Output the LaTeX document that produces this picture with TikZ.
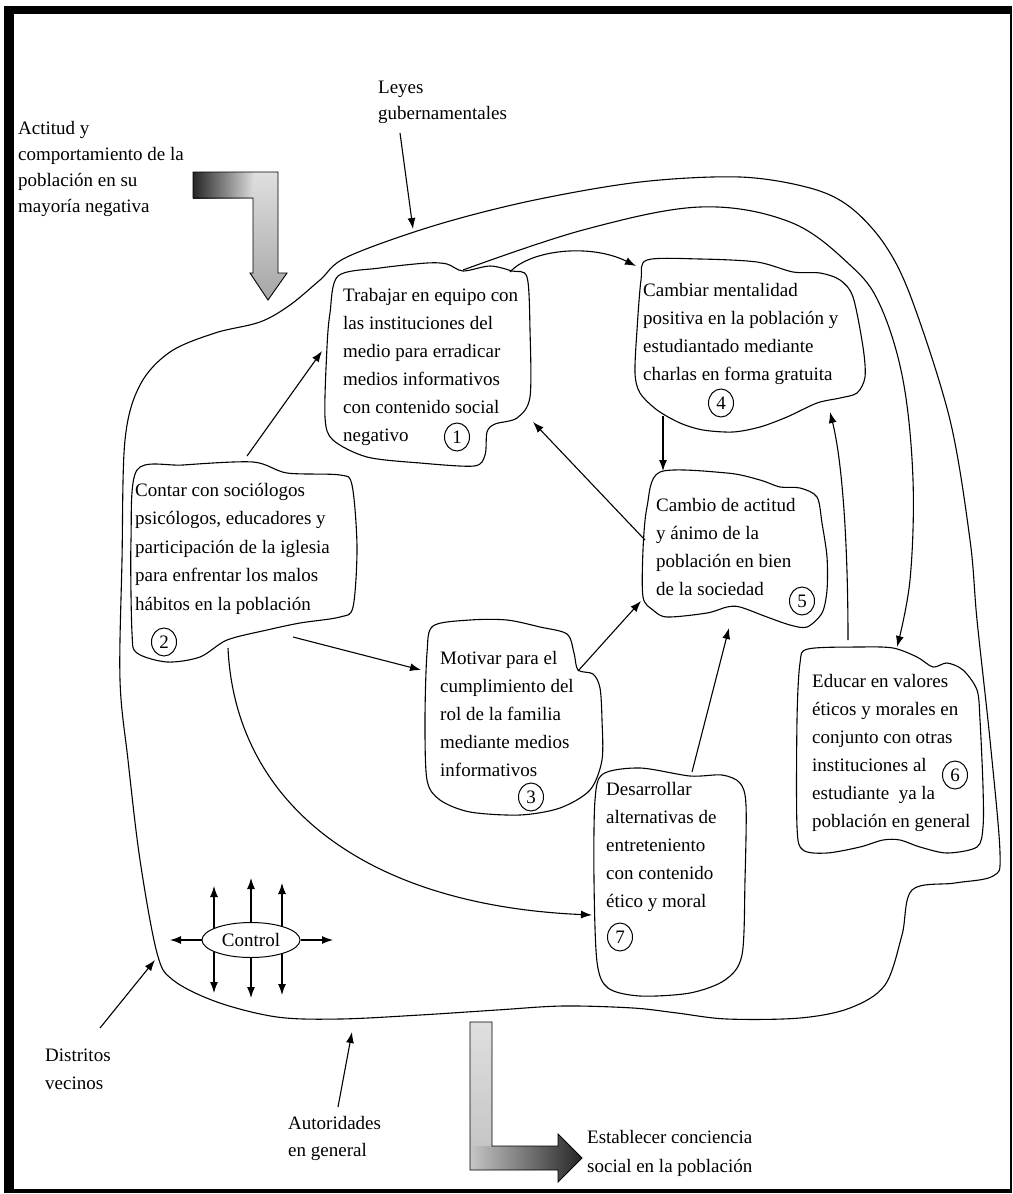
\documentclass[tikz,border=0pt]{standalone}
\usepackage{fontspec}
\setmainfont{Liberation Serif}
\usetikzlibrary{arrows.meta,shapes.geometric,calc}
\begin{document}
\begin{tikzpicture}[
  x=1pt, y=-1pt,
  lbl/.style={anchor=north west, inner sep=0pt, align=left, font=\fontsize{19}{28}\selectfont},
  lbltight/.style={lbl, font=\fontsize{19}{26}\selectfont},
  num/.style={draw, ellipse, line width=1pt, minimum width=25pt, minimum height=28pt, inner sep=0pt, font=\fontsize{19}{19}\selectfont},
  blob/.style={draw, line width=1.1pt},
  conn/.style={line width=1.1pt, -{Latex[length=11pt,width=8pt]}},
  bigarrow/.style={draw, line width=0.9pt}
]
\useasboundingbox (0,0) rectangle (1012,1194);
\fill[white] (0,0) rectangle (1012,1194);

% frame with heavy top and left edges
\fill[black] (4,6) rectangle (1012,14);
\fill[black] (4,6) rectangle (14,1193);
\fill[black] (4,1189) rectangle (1012,1193);
\fill[black] (1009.5,6) rectangle (1011.5,1193);

% outer boundary of the system
\draw[blob] plot[smooth cycle, tension=0.55] coordinates {
  (320,280) (347,257) (433,226) (530,201) (640,182) (740,177)
  (810,188) (850,207) (885,245) (912,300) (950,420) (970,540) (977,620)
  (990,740) (1000,853) (993,876) (955,883) (912,890) (902,935) (885,985)
  (850,1008) (800,1018) (727,1019) (677,1013) (633,1008) (563,1006)
  (497,1010) (420,1015) (340,1019) (277,1017) (217,1002) (173,980)
  (157,953) (140,860) (128,760) (120,680) (122,560) (125,440) (140,385)
  (170,352) (215,333) (260,322) (290,305)};

% ---- boxes ----
% 1
\draw[blob] plot[smooth cycle, tension=0.5] coordinates {
  (338,276) (380,268) (427,263) (447,264) (463,271) (490,266) (512,271)
  (527,277) (530,330) (530,397) (517,418) (495,424) (487,432) (485,455)
  (474,466) (420,463) (367,457) (333,440) (325,417) (327,347) (330,313)};
\node[lbl] (t1) at (343,282) {\strut Trabajar en equipo con\\las instituciones del\\medio para erradicar\\medios informativos\\con contenido social\\negativo};
\node[num] (n1) at (457,437) {1};

% 2
\draw[blob] plot[smooth cycle, tension=0.5] coordinates {
  (137,470) (183,465) (253,462) (287,473) (340,475) (352,485) (357,547)
  (353,607) (340,617) (300,623) (267,630) (227,640) (200,657) (167,662)
  (137,653) (132,633) (131,540)};
\node[lbl, font=\fontsize{19}{28.5}\selectfont] (t2) at (135,476) {\strut Contar con sociólogos\\psicólogos, educadores y\\participación de la iglesia\\para enfrentar los malos\\hábitos en la población};
\node[num] (n2) at (164,642) {2};

% 3
\draw[blob] plot[smooth cycle, tension=0.5] coordinates {
  (433,626) (470,620) (507,620) (540,627) (567,634) (574,653) (578,670)
  (593,674) (600,688) (602,720) (602,760) (590,790) (560,808) (520,815)
  (470,812) (440,800) (427,780) (425,720) (427,653)};
\node[lbl] (t3) at (440,645) {\strut Motivar para el\\cumplimiento del\\rol de la familia\\mediante medios\\informativos};
\node[num] (n3) at (531,797) {3};

% 4
\draw[blob] plot[smooth cycle, tension=0.5] coordinates {
  (647,260) (700,259) (757,262) (793,272) (820,273) (840,280) (853,297)
  (863,347) (865,377) (857,393) (840,398) (817,403) (787,417) (760,427)
  (733,432) (703,430) (680,423) (657,410) (640,393) (635,373) (637,330)
  (641,280)};
\node[lbl] (t4) at (643,277) {\strut Cambiar mentalidad\\positiva en la población y\\estudiantado mediante\\charlas en forma gratuita};
\node[num] (n4) at (721,403) {4};

% 5
\draw[blob] plot[smooth cycle, tension=0.5] coordinates {
  (660,472) (727,473) (760,480) (780,487) (800,488) (817,497) (822,523)
  (827,557) (827,590) (822,613) (807,627) (790,625) (767,617) (740,607)
  (727,607) (707,613) (667,617) (653,610) (643,597) (643,550) (647,507)};
\node[lbl] (t5) at (656,492) {\strut Cambio de actitud\\y ánimo de la\\población en bien\\de la sociedad};
\node[num] (n5) at (802,601) {5};

% 6
\draw[blob] plot[smooth cycle, tension=0.5] coordinates {
  (808,649) (860,647) (893,648) (917,657) (933,667) (947,663) (963,670)
  (977,690) (980,720) (983,787) (983,827) (977,847) (947,853) (920,847)
  (900,840) (883,840) (860,847) (827,853) (803,850) (797,827) (797,720)
  (800,663)};
\node[lbl] (t6) at (812,668) {\strut Educar en valores\\éticos y morales en\\conjunto con otras\\instituciones al\\estudiante\ \ ya la\\población en general};
\node[num] (n6) at (955,775) {6};

% 7
\draw[blob] plot[smooth cycle, tension=0.5] coordinates {
  (603,774) (640,768) (690,776) (722,775) (740,783) (746,805) (745,880)
  (742,955) (725,980) (690,993) (640,996) (608,988) (597,962) (594,880)
  (595,800)};
\node[lbl] (t7) at (606,776) {\strut Desarrollar\\alternativas de\\entreteniento\\con contenido\\ético y moral};
\node[num] (n7) at (620,937) {7};

% ---- outside labels ----
\node[lbltight] (leyes) at (378,75) {\strut Leyes\\gubernamentales};
\node[lbltight] (actitud) at (18,116) {\strut Actitud y\\comportamiento de la\\población en su\\mayoría negativa};
\node[lbl] (distritos) at (45,1042) {\strut Distritos\\vecinos};
\node[lbl, font=\fontsize{19}{27}\selectfont] (autoridades) at (288,1110) {\strut Autoridades\\en general};
\node[lbl, font=\fontsize{19}{29}\selectfont] (establecer) at (587,1123) {\strut Establecer conciencia\\social en la población};

% ---- connector end points ----
\coordinate (leyesA) at (400,133);
\coordinate (leyesB) at (413,229);
\coordinate (distA) at (100,1028);
\coordinate (distB) at (155,960);
\coordinate (autA) at (338,1107);
\coordinate (autB) at (352,1032);
\coordinate (b2top) at (247,456);
\coordinate (b1left) at (322,351);
\coordinate (b2right) at (293,637);
\coordinate (b3left) at (421,670);
\coordinate (b3right) at (578,671);
\coordinate (b5low) at (641,601);
\coordinate (b5left) at (645,540);
\coordinate (b1low) at (533,422);
\coordinate (b4bot) at (663,416);
\coordinate (b5top) at (663,471);
\coordinate (b7top) at (692,772);
\coordinate (b5bot) at (729,628);
\coordinate (b2bot) at (228,648);
\coordinate (b7left) at (592,915);
\coordinate (b1topA) at (510,272);
\coordinate (b4tl) at (636,266);
\coordinate (b1topB) at (463,270);
\coordinate (b6top) at (897,647);
\coordinate (b6above) at (848,640);
\coordinate (b4br) at (830,412);

% ---- connectors ----
\draw[conn] (leyesA) -- (leyesB);
\draw[conn] (distA) -- (distB);
\draw[conn] (autA) -- (autB);
\draw[conn] (b2top) -- (b1left);
\draw[conn] (b2right) -- (b3left);
\draw[conn] (b3right) -- (b5low);
\draw[conn] (b5left) -- (b1low);
\draw[conn] (b4bot) -- (b5top);
\draw[conn] (b7top) -- (b5bot);
\draw[conn] (b2bot) .. controls (235,800) and (360,905) .. (b7left);
\draw[conn] (b1topA) .. controls (530,250) and (590,243) .. (b4tl);
\draw[conn] (b6above) .. controls (848,540) and (842,460) .. (b4br);
\draw[conn] plot[smooth, tension=0.6] coordinates {
  (b1topB) (583,230) (700,207) (790,222) (850,265) (880,305) (903,380)
  (913,480) (910,580) (b6top)};

% ---- control ----
\node[draw, ellipse, line width=1pt, minimum width=98pt, minimum height=35pt, inner sep=0pt,
      font=\fontsize{19}{19}\selectfont] (ctrl) at (251,940) {Control};
\draw[conn] (ctrl.west) -- (170,940);
\draw[conn] (ctrl.east) -- (333,940);
\draw[conn] ($(ctrl)+(-37,-11.5)$) -- (214,886);
\draw[conn] (ctrl.north) -- (251,878);
\draw[conn] ($(ctrl)+(31,-13.6)$) -- (282,883);
\draw[conn] ($(ctrl)+(-37,11.5)$) -- (214,993);
\draw[conn] (ctrl.south) -- (251,998);
\draw[conn] ($(ctrl)+(31,13.6)$) -- (282,995);

% ---- shaded input arrow ----
\shade[left color=black!85, right color=gray!30] (193,172) rectangle (253,198);
\shade[top color=gray!25, bottom color=gray!70]
  (253,172) -- (278,172) -- (278,273) -- (287,273) -- (268,300) -- (250,273) -- (253,273) -- cycle;
\draw[bigarrow] (193,172) -- (278,172) -- (278,273) -- (287,273) -- (268,300)
  -- (250,273) -- (253,273) -- (253,198) -- (193,198) -- cycle;

% ---- shaded output arrow ----
\shade[top color=gray!25, bottom color=gray!45] (470,1022) rectangle (492,1146);
\shade[left color=gray!45, right color=black!85]
  (470,1146) -- (558,1146) -- (558,1134) -- (582,1158) -- (558,1182) -- (558,1170) -- (470,1170) -- cycle;
\draw[bigarrow] (470,1022) -- (492,1022) -- (492,1146) -- (558,1146) -- (558,1134)
  -- (582,1158) -- (558,1182) -- (558,1170) -- (470,1170) -- cycle;
\end{tikzpicture}
\end{document}
